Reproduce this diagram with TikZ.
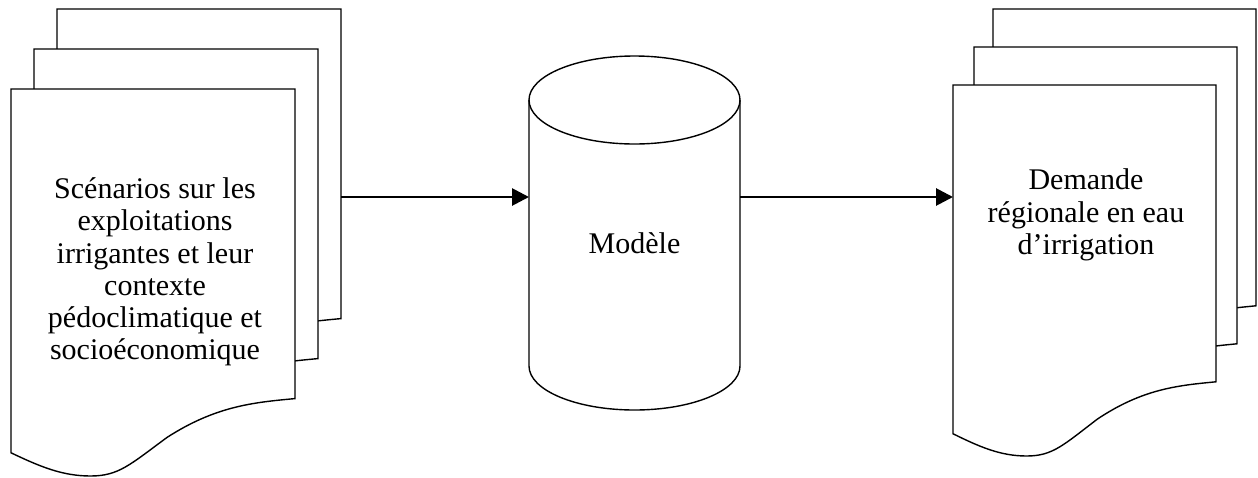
\documentclass[tikz,border=0pt]{standalone}
\usepackage{fontspec}
\setmainfont{Liberation Serif}
\usetikzlibrary{arrows.meta}

\newcommand{\docsheet}[4]{%
	\filldraw[sheet] (#1,#2) -- ({#1+#3},#2) -- ({#1+#3},{#2+0.80*#4})
	.. controls ({#1+0.85*#3},{#2+0.81*#4}) and ({#1+0.72*#3},{#2+0.82*#4}) .. ({#1+0.55*#3},{#2+0.9*#4})
	.. controls ({#1+0.42*#3},{#2+0.97*#4}) and ({#1+0.38*#3},{#2+#4}) .. ({#1+0.28*#3},{#2+#4})
	.. controls ({#1+0.18*#3},{#2+#4}) and ({#1+0.1*#3},{#2+0.975*#4}) .. (#1,{#2+0.94*#4}) -- cycle;}

\begin{document}
\begin{tikzpicture}[x=1pt,y=-1pt,
	sheet/.style={draw=black,fill=white,line width=1.4pt},
	txt/.style={align=center,font=\fontsize{30}{32.3}\selectfont},
	flow/.style={line width=2.8pt,-{Triangle[length=17pt,width=17pt]}}]
	\useasboundingbox (0,0) rectangle (1258,477);
	\docsheet{57}{9}{284}{387}
	\docsheet{34}{49}{284}{387}
	\docsheet{11}{89}{284}{387}
	\docsheet{993}{9}{263}{371}
	\docsheet{974}{47}{263}{371}
	\docsheet{953}{85}{263}{371}
	\draw[line width=1.4pt] (529,100) -- (529,366) arc (180:0:105.5 and 44) -- (740,100);
	\draw[line width=1.4pt] (634.5,100) ellipse (105.5 and 44);
	\node[txt] (scen) at (155,272) {Scénarios sur les\\exploitations\\irrigantes et leur\\contexte\\pédoclimatique et\\socioéconomique};
	\node[txt] (model) at (634.5,243) {Modèle};
	\node[txt] (dem) at (1086,215) {Demande\\régionale en eau\\d’irrigation};
	\coordinate (scenR) at (341,197);
	\coordinate (modL) at (529,197);
	\coordinate (modR) at (740,197);
	\coordinate (demL) at (953,197);
	\draw[flow] (scenR) -- (modL);
	\draw[flow] (modR) -- (demL);
\end{tikzpicture}
\end{document}
